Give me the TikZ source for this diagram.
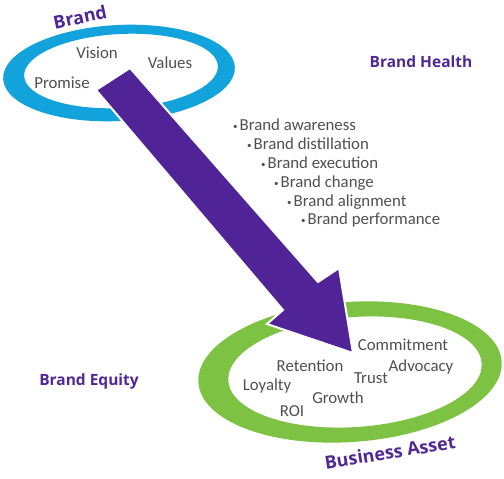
\documentclass[tikz,border=0pt]{standalone}
\usepackage{fontspec}
\setmainfont{Carlito}
\newfontfamily\boldlab{Open Sans}
\definecolor{ringblue}{RGB}{18,163,221}
\definecolor{ringgreen}{RGB}{125,194,66}
\definecolor{arrowpurple}{RGB}{80,35,150}
\definecolor{labpurple}{RGB}{80,40,150}
\definecolor{txtgray}{RGB}{80,80,80}
\newcommand{\smallbul}{{\fontsize{9}{9}\selectfont\raisebox{0.15em}{\textbullet}}\hspace{2pt}}
\tikzset{
  word/.style={text=txtgray, font=\fontsize{16.8}{19}\selectfont, inner sep=0pt},
  bul/.style={word, anchor=west},
  lab/.style={text=labpurple, font=\boldlab\bfseries\fontsize{15.5}{17}\selectfont, inner sep=0pt},
  biglab/.style={text=labpurple, font=\boldlab\bfseries\fontsize{18}{20}\selectfont, inner sep=0pt},
}
\begin{document}
\begin{tikzpicture}[x=1pt,y=-1pt]
\useasboundingbox (0,0) rectangle (504,479);
\fill[white] (0,0) rectangle (504,479);
% blue ring
\fill[ringblue, even odd rule] (119,73) ellipse[x radius=116, y radius=48, rotate=3]
  (121,71) ellipse[x radius=97, y radius=37, rotate=3];
% green ring
\fill[ringgreen, even odd rule] (350,372) ellipse[x radius=152, y radius=70, rotate=4]
  (355,372) ellipse[x radius=127, y radius=55, rotate=4];
% arrow
\filldraw[arrowpurple, draw=white, line width=2pt, line join=miter]
  (96,90) -- (130,68) -- (318,282) -- (339,268) -- (353,353) -- (267,324) -- (283,310) -- cycle;
% labels
\node[biglab, rotate=12] (brand) at (80,17) {Brand};
\node[lab] (health) at (421,62) {Brand Health};
\node[lab] (equity) at (89,381) {Brand Equity};
\node[biglab, rotate=9] (asset) at (390,452) {Business Asset};
% brand words
\node[word] (vision) at (97,53) {Vision};
\node[word] (values) at (170,63) {Values};
\node[word] (promise) at (62,83) {Promise};
% bullets
\node[bul] (b1) at (233,125) {\smallbul Brand awareness};
\node[bul] (b2) at (247,144) {\smallbul Brand distillation};
\node[bul] (b3) at (261,163) {\smallbul Brand execution};
\node[bul] (b4) at (274,183) {\smallbul Brand change};
\node[bul] (b5) at (287,202) {\smallbul Brand alignment};
\node[bul] (b6) at (301,220) {\smallbul Brand performance};
% asset words
\node[word] (commit) at (403,345) {Commitment};
\node[word] (advoc) at (421,367) {Advocacy};
\node[word] (reten) at (310,366) {Retention};
\node[word] (trust) at (371,378) {Trust};
\node[word] (loyal) at (267,386) {Loyalty};
\node[word] (growth) at (338,398) {Growth};
\node[word] (roi) at (292,411) {ROI};
\end{tikzpicture}
\end{document}
